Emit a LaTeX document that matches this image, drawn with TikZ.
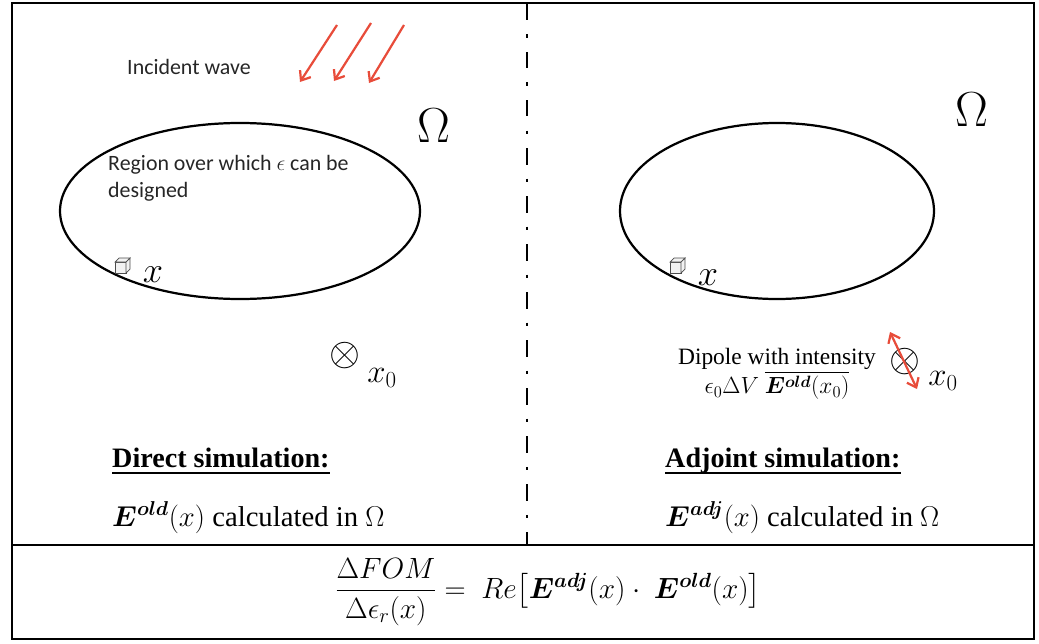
\RequirePackage{fix-cm}
\documentclass[tikz,border=0pt]{standalone}
\usepackage{amsmath,bm}
\usepackage{fontspec}
\setmainfont{Liberation Serif}
\newfontfamily\calibri{Carlito}
\usetikzlibrary{arrows.meta,shapes.geometric}
\definecolor{wavered}{RGB}{232,76,58}
\tikzset{
  frame/.style={line width=2.2pt, black},
  divider/.style={line width=2.4pt, dash pattern=on 14pt off 12pt on 2.6pt off 12.4pt},
  region/.style={draw, ellipse, line width=1.9pt, inner sep=0pt},
  redarrow/.style={draw=wavered, line width=1.9pt, -{Straight Barb[length=7pt,width=11pt]}},
  dipolearrow/.style={draw=wavered, line width=1.9pt, {Straight Barb[length=7pt,width=11pt]}-{Straight Barb[length=7pt,width=11pt]}},
  sanslabel/.style={font=\calibri\fontsize{18.7}{23}\selectfont, text=black!85, align=left, inner sep=0pt},
  bigomega/.style={font=\fontsize{42}{44}\selectfont, inner sep=0pt},
  pointlabel/.style={font=\fontsize{31}{33}\selectfont, inner sep=0pt},
  sublabel/.style={font=\fontsize{28}{30}\selectfont, inner sep=0pt},
  otimesmark/.style={font=\fontsize{34}{36}\selectfont, inner sep=0pt},
  heading/.style={font=\bfseries\fontsize{24}{28}\selectfont, inner sep=0pt, anchor=base west},
  bodytext/.style={font=\fontsize{24.5}{28}\selectfont, inner sep=0pt, anchor=base west},
  cube/.style={draw=black!70, line width=0.6pt, fill=black!5},
}
\newcommand{\cubeicon}[1]{%
  \begin{scope}[shift={(#1)}]
    \filldraw[cube] (-7,-2) rectangle (4,9);
    \filldraw[cube] (-7,-2) -- (-3,-6) -- (8,-6) -- (4,-2) -- cycle;
    \filldraw[cube] (4,-2) -- (8,-6) -- (8,5) -- (4,9) -- cycle;
  \end{scope}}
\begin{document}
\begin{tikzpicture}[x=0.03cm,y=-0.03cm]
\useasboundingbox (0,0) rectangle (1039,643);
% frame
\draw[frame] (12,3) rectangle (1034,639);
\coordinate (midL) at (12,545);
\coordinate (midR) at (1034,545);
\draw[frame] (midL) -- (midR);
\coordinate (divTop) at (527,4);
\coordinate (divBot) at (527,545);
\draw[divider] (divTop) -- (divBot);

% ---------- left panel ----------
\node[region, minimum width=10.8cm, minimum height=5.28cm] (ellL) at (240,211) {};
\node[sanslabel, anchor=west] (incident) at (127,67) {Incident wave};
\coordinate (w1s) at (337,25); \coordinate (w1e) at (300,82);
\coordinate (w2s) at (371,23); \coordinate (w2e) at (334,81);
\coordinate (w3s) at (404,25); \coordinate (w3e) at (369,83);
\draw[redarrow] (w1s) -- (w1e);
\draw[redarrow] (w2s) -- (w2e);
\draw[redarrow] (w3s) -- (w3e);
\node[bigomega] (omegaL) at (434,126) {$\Omega$};
\node[sanslabel, anchor=north west] (regiontext) at (108,155) {Region over which $\epsilon$ can be\\designed};
\cubeicon{122,264}
\node[pointlabel] (xL) at (153,275) {$x$};
\node[otimesmark] (otL) at (345,356) {$\otimes$};
\node[sublabel] (x0L) at (382,378) {$x_0$};
\node[heading] (headL) at (112,467) {Direct simulation:};
\draw[line width=1.9pt] ([yshift=-5pt]headL.base west) -- ([yshift=-5pt]headL.base east);
\node[bodytext] (bodyL) at (112,526) {$\bm{E^{old}}(x)$ calculated in $\Omega$};

% ---------- right panel ----------
\node[region, minimum width=9.42cm, minimum height=5.28cm] (ellR) at (777,211) {};
\node[bigomega] (omegaR) at (972,110) {$\Omega$};
\cubeicon{677,264}
\node[pointlabel] (xR) at (708,278) {$x$};
\node[otimesmark] (otR) at (905,362) {$\otimes$};
\coordinate (dpA) at (890,332);
\coordinate (dpB) at (917,389);
\draw[dipolearrow] (dpA) -- (dpB);
\node[sublabel] (x0R) at (943,381) {$x_0$};
\node[font=\fontsize{20}{24}\selectfont, inner sep=0pt, align=center] (dipole) at (777,374)
  {Dipole with intensity\\[1pt]$\epsilon_0\Delta V\ \overline{\bm{E^{old}}(x_0)}$};
\node[heading] (headR) at (665,467) {Adjoint simulation:};
\draw[line width=1.9pt] ([yshift=-5pt]headR.base west) -- ([yshift=-5pt]headR.base east);
\node[bodytext] (bodyR) at (665,526) {$\bm{E^{adj}}(x)$ calculated in $\Omega$};

% ---------- formula ----------
\node[font=\fontsize{25}{29}\selectfont, inner sep=0pt] (formula) at (548,592)
  {$\dfrac{\Delta FOM}{\Delta\epsilon_r(x)} = \ Re\bigl[\bm{E^{adj}}(x)\cdot\ \bm{E^{old}}(x)\bigr]$};
\end{tikzpicture}
\end{document}
